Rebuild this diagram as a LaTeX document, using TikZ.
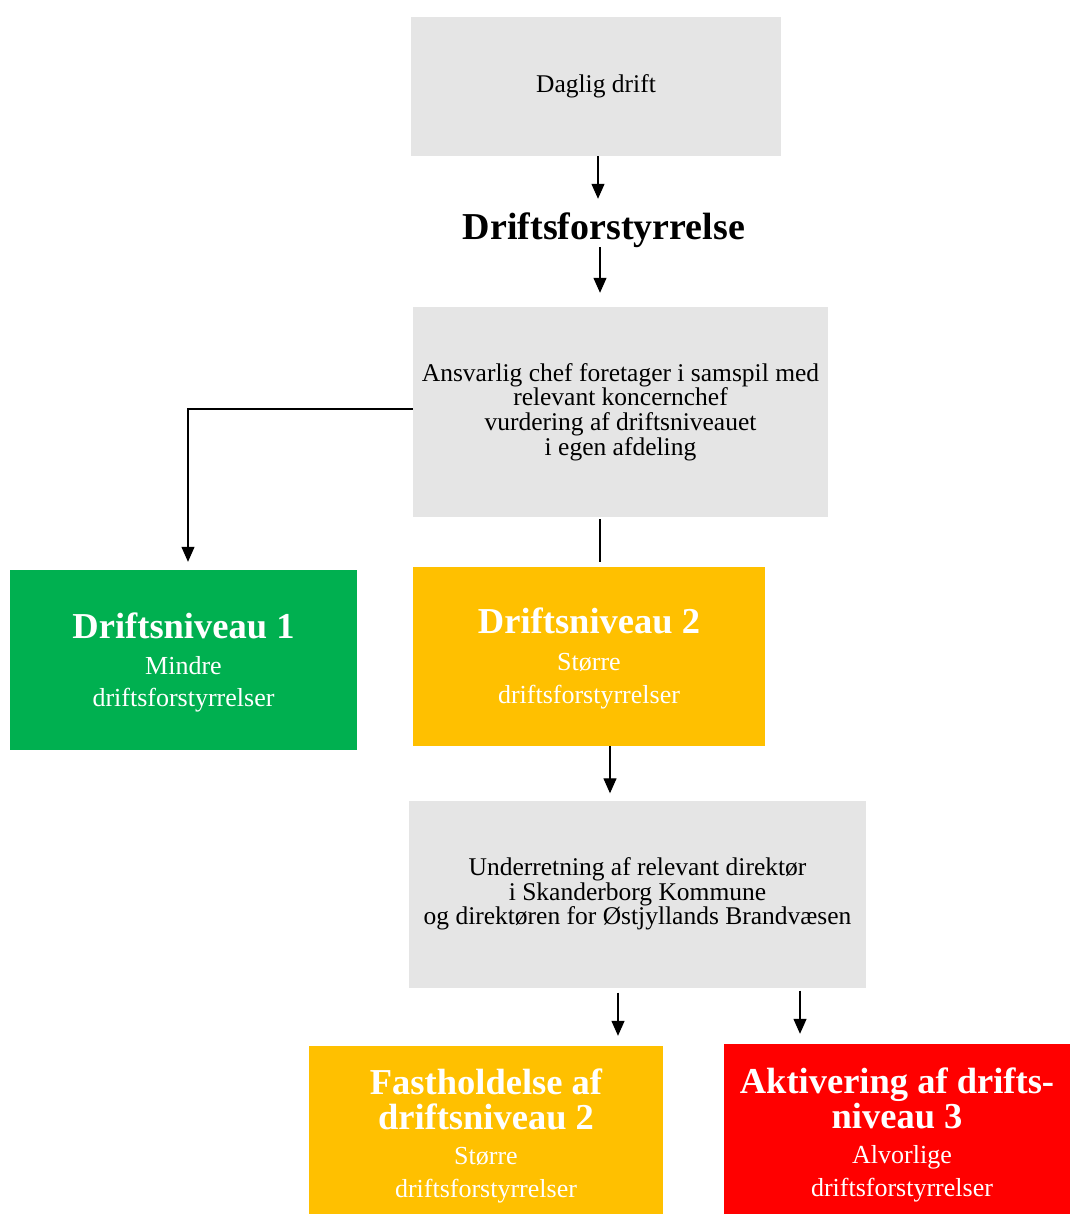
\documentclass[tikz,border=0pt]{standalone}
\usepackage{fontspec}
\setmainfont{Liberation Serif}
\usetikzlibrary{arrows.meta}
\definecolor{boxgray}{HTML}{E5E5E5}
\definecolor{lvlgreen}{HTML}{00B050}
\definecolor{lvlorange}{HTML}{FFC000}
\definecolor{lvlred}{HTML}{FF0000}
\tikzset{
  graybox/.style={fill=boxgray, inner sep=0pt, align=center, text=black,
    font=\fontsize{25.5}{24.7}\selectfont},
  lvlbox/.style={inner sep=0pt},
  lvltitle/.style={text=white, align=center, inner sep=0pt,
    font=\bfseries\fontsize{36.5}{35}\selectfont},
  lvlsub/.style={text=white, align=center, inner sep=0pt,
    font=\fontsize{26}{32.5}\selectfont},
  arr/.style={-{Triangle[width=13pt,length=15pt]}, line width=1.2pt},
  plain/.style={line width=1.2pt},
}
\begin{document}
\begin{tikzpicture}[x=1pt,y=-1pt]
\useasboundingbox (0,0) rectangle (1070,1214);
% gray boxes
\node[graybox, minimum width=370, minimum height=139] (daglig) at (596,86.5) {Daglig drift};
\node[text=black, inner sep=0pt, text height=40pt, text depth=7pt, anchor=base,
  font=\bfseries\fontsize{38}{40}\selectfont] (forst) at (604,240) {Driftsforstyrrelse};
\node[graybox, minimum width=415, minimum height=210] (ansvar) at (620.5,412)
  {Ansvarlig chef foretager i samspil med\\relevant koncernchef\\vurdering af driftsniveauet\\i egen afdeling};
\node[graybox, minimum width=457, minimum height=187] (under) at (637.5,894)
  {Underretning af relevant direktør\\i Skanderborg Kommune\\og direktøren for Østjyllands Brandvæsen};
% level boxes
\node[lvlbox, fill=lvlgreen, minimum width=347, minimum height=180] (niv1) at (183.5,660) {};
\node[lvltitle] (niv1t) at (183.5,626) {Driftsniveau 1};
\node[lvlsub] (niv1s) at (183.5,684.5) {Mindre\\driftsforstyrrelser};
\node[lvlbox, fill=lvlorange, minimum width=352, minimum height=179] (niv2) at (589,656.5) {};
\node[lvltitle] (niv2t) at (589,621) {Driftsniveau 2};
\node[lvlsub] (niv2s) at (589,681) {Større\\driftsforstyrrelser};
\node[lvlbox, fill=lvlorange, minimum width=354, minimum height=168] (fast) at (486,1130) {};
\node[lvltitle] (fastt) at (486,1099.5) {Fastholdelse af\\driftsniveau 2};
\node[lvlsub] (fasts) at (486,1175) {Større\\driftsforstyrrelser};
\node[lvlbox, fill=lvlred, minimum width=346, minimum height=170] (akt) at (897,1129) {};
\node[lvltitle] (aktt) at (897,1098.5) {Aktivering af drifts-\\niveau 3};
\node[lvlsub] (akts) at (902,1174) {Alvorlige\\driftsforstyrrelser};
% connectors
\draw[arr, shorten >=1] ([xshift=2pt]daglig.south) -- ([xshift=2pt]daglig.south |- forst.north);
\draw[arr, shorten >=14] ([xshift=-4pt]forst.south) -- ([xshift=-4pt]forst.south |- ansvar.north);
\draw[arr, shorten >=8] ([yshift=3pt]ansvar.west) -| ([xshift=4.5pt]niv1.north);
\draw[plain, shorten <=2, shorten >=5] ([xshift=-20.5pt]ansvar.south) -- ([xshift=11pt]niv2.north);
\draw[arr, shorten >=7] ([xshift=21pt]niv2.south) -- ([xshift=21pt]niv2.south |- under.north);
\draw[arr, shorten <=5, shorten >=10] ([xshift=-19.5pt]under.south) -- ([xshift=-19.5pt]under.south |- fast.north);
\draw[arr, shorten <=3, shorten >=10] ([xshift=162.5pt]under.south) -- ([xshift=162.5pt]under.south |- akt.north);
\end{tikzpicture}
\end{document}
